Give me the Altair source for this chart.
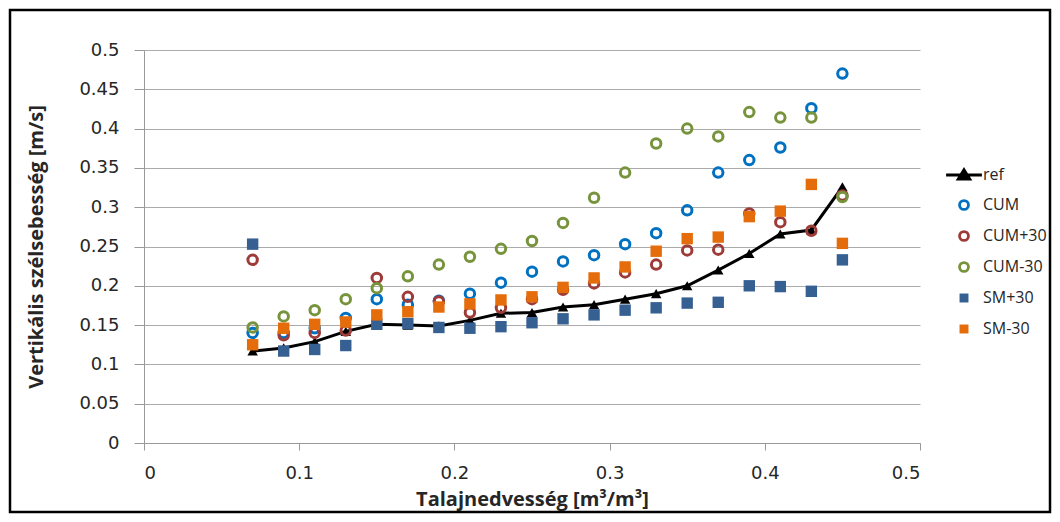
import altair as alt
import pandas as pd

x_vals = [0.07, 0.09, 0.11, 0.13, 0.15, 0.17, 0.19, 0.21, 0.23, 0.25,
          0.27, 0.29, 0.31, 0.33, 0.35, 0.37, 0.39, 0.41, 0.43, 0.45]
ref = [0.117, 0.121, 0.129, 0.142, 0.151, 0.150, 0.149, 0.156, 0.165, 0.166,
       0.173, 0.176, 0.183, 0.190, 0.200, 0.220, 0.241, 0.266, 0.271, 0.326]
cum = [0.140, 0.140, 0.146, 0.159, 0.183, 0.176, 0.181, 0.190, 0.204, 0.218,
       0.231, 0.239, 0.253, 0.267, 0.296, 0.344, 0.360, 0.376, 0.426, 0.470]
cum_p30 = [0.233, 0.137, 0.140, 0.143, 0.210, 0.186, 0.180, 0.166, 0.172, 0.183,
           0.195, 0.203, 0.217, 0.227, 0.245, 0.246, 0.292, 0.281, 0.270, 0.315]
cum_m30 = [0.147, 0.161, 0.169, 0.183, 0.197, 0.212, 0.227, 0.237, 0.247, 0.257,
           0.280, 0.312, 0.344, 0.381, 0.400, 0.390, 0.421, 0.414, 0.414, 0.313]
sm_p30 = [0.253, 0.117, 0.119, 0.124, 0.151, 0.152, 0.147, 0.146, 0.148, 0.153,
          0.158, 0.163, 0.169, 0.172, 0.178, 0.179, 0.200, 0.199, 0.193, 0.233]
sm_m30 = [0.125, 0.146, 0.151, 0.154, 0.163, 0.167, 0.173, 0.177, 0.182, 0.186,
          0.198, 0.210, 0.224, 0.244, 0.260, 0.262, 0.288, 0.295, 0.329, 0.254]

series_names = ["ref", "CUM", "CUM+30", "CUM-30", "SM+30", "SM-30"]
x_ticks = [0, 0.1, 0.2, 0.3, 0.4, 0.5]
y_ticks = [0, 0.05, 0.1, 0.15, 0.2, 0.25, 0.3, 0.35, 0.4, 0.45, 0.5]

x_title = "Talajnedvesség [m³/m³]"
y_title = "Vertikális szélsebesség [m/s]"

circ_rows, sq_rows = [], []
for name, vals in [("CUM", cum), ("CUM+30", cum_p30), ("CUM-30", cum_m30)]:
    for xv, yv in zip(x_vals, vals):
        circ_rows.append({"x": xv, "y": yv, "series": name})
for name, vals in [("SM+30", sm_p30), ("SM-30", sm_m30)]:
    for xv, yv in zip(x_vals, vals):
        sq_rows.append({"x": xv, "y": yv, "series": name})
circ_df = pd.DataFrame(circ_rows)
sq_df = pd.DataFrame(sq_rows)
ref_df = pd.DataFrame({"x": x_vals, "y": ref})

FONT = "Open Sans"
TICKFONT = "DejaVu Sans"
TXT = "#262626"

xscale = alt.Scale(domain=[0, 0.5], nice=False, zero=False)
yscale = alt.Scale(domain=[0, 0.5], nice=False, zero=False)

xaxis = alt.Axis(values=x_ticks, format="~g", grid=False, tickSize=7,
                 labelPadding=14, title=x_title, titlePadding=7,
                 titleFontSize=20, titleFontWeight="bold", labelFontSize=18,
                 labelOverlap=False, tickCount=6)
yaxis = alt.Axis(values=y_ticks, format="~g", grid=True, tickSize=10,
                 labelPadding=15, title=y_title, titlePadding=32,
                 titleFontSize=20, titleFontWeight="bold", labelFontSize=18,
                 labelOverlap=False, tickCount=11)


def X():
    return alt.X("x:Q", scale=xscale, axis=xaxis)


def Y():
    return alt.Y("y:Q", scale=yscale, axis=yaxis)


ref_shape = "M-4,0H4M0,-1.2L1.3,0.9L-1.3,0.9Z"
shape_range = [ref_shape, "circle", "circle", "circle", "square", "square"]
fill_range = ["black", "transparent", "transparent", "transparent", "#376092", "#E46C0A"]
stroke_range = ["black", "#0070C0", "#9E3B38", "#77933C", "transparent", "transparent"]

shape_scale = alt.Scale(domain=series_names, range=shape_range)
fill_scale = alt.Scale(domain=series_names, range=fill_range)
stroke_scale = alt.Scale(domain=series_names, range=stroke_range)

legend = alt.Legend(title=None, orient="none", legendX=812, legendY=117,
                    labelFontSize=16, labelOffset=11, rowPadding=9,
                    symbolSize=80, symbolStrokeWidth=2.8,
                    labelColor=TXT)

line = alt.Chart(ref_df).mark_line(color="black", strokeWidth=3).encode(x=X(), y=Y())
tri = alt.Chart(ref_df).mark_point(shape="triangle-up", filled=True, color="black",
                                   size=110, opacity=1).encode(x=X(), y=Y())

circles = alt.Chart(circ_df).mark_point(strokeWidth=3, size=90, opacity=1).encode(
    x=X(), y=Y(),
    shape=alt.Shape("series:N", scale=shape_scale, legend=legend),
    fill=alt.Fill("series:N", scale=fill_scale, legend=legend),
    stroke=alt.Stroke("series:N", scale=stroke_scale, legend=legend),
)
squares = alt.Chart(sq_df).mark_point(strokeWidth=3, size=130, opacity=1).encode(
    x=X(), y=Y(),
    shape=alt.Shape("series:N", scale=shape_scale, legend=legend),
    fill=alt.Fill("series:N", scale=fill_scale, legend=legend),
    stroke=alt.Stroke("series:N", scale=stroke_scale, legend=legend),
)

frame = alt.Chart(pd.DataFrame({"a": [0]})).mark_rect(
    fill="transparent", stroke="black", strokeWidth=2.5).encode(
    x=alt.value(-134), x2=alt.value(906), y=alt.value(-40), y2=alt.value(462)
)

chart = alt.layer(line, tri, circles, squares, frame).properties(
    width=776, height=393,
    autosize=alt.AutoSizeParams(type="none"),
    padding={"left": 136, "top": 42, "right": 132, "bottom": 71},
).configure_view(stroke=None).configure_axis(
    labelFont=TICKFONT, titleFont=FONT, labelColor=TXT, titleColor=TXT,
    domainColor="#999999", tickColor="#999999", gridColor="#ABABAB",
    gridWidth=1, domainWidth=1, tickWidth=1,
).configure_legend(labelFont=FONT)

chart.save("out.html", embed_options={"renderer": "svg", "actions": False})
